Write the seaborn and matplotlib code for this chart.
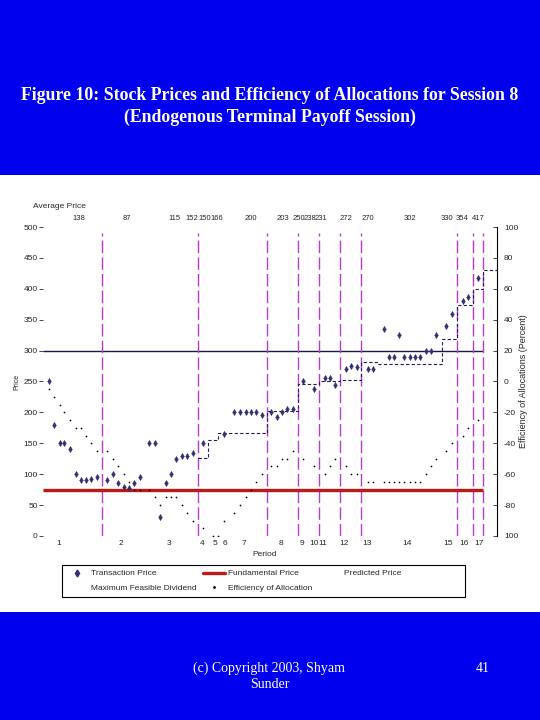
import numpy as np
import pandas as pd
import matplotlib
matplotlib.use("Agg")
import matplotlib.pyplot as plt
import seaborn as sns
from matplotlib.lines import Line2D
from matplotlib.patches import Rectangle

# --- donnees ---
# temps de transaction (rang), prix, efficacite (%)
trade_t = [0, 1.1, 2.1, 2.9, 4.0, 5.1, 6.0, 6.9, 8.0, 9.0,
           11.0, 12.0, 12.9, 14.0, 15.0, 16.0, 17.0,
           18.8, 19.9, 20.8, 21.9, 22.9, 23.8, 24.9, 25.9, 26.9,
           28.8, 30.7, 31.7, 32.8,
           34.7, 35.8, 36.8, 37.8, 38.8, 39.8,
           41.6, 42.6, 43.6, 44.6, 45.6,
           47.6, 49.6, 51.6, 52.6, 53.6,
           55.6, 56.5, 57.6, 59.6, 60.6,
           62.6, 63.6, 64.6, 65.5, 66.5, 67.5, 68.5, 69.5, 70.5, 71.5,
           72.4, 74.3, 75.3, 77.4, 78.4, 80.3]
trade_price = [250, 180, 150, 150, 140, 100, 90, 90, 93, 95,
               90, 100, 85, 80, 78, 85, 95,
               150, 150, 30, 85, 100, 125, 130, 130, 135,
               150, np.nan, np.nan, 165,
               200, 200, 200, 200, 200, 195,
               200, 193, 200, 205, 205,
               250, 238, 255, 255, 245,
               270, 275, 273, 270, 270,
               335, 290, 290, 325, 290, 290, 290, 290, 300, 300,
               325, 340, 360, 380, 387, 417]
trade_eff = [-5, -10, -15, -20, -25, -30, -30, -35, -40, -45,
             -45, -50, -55, -60, -65, -70, -70,
             -70, -75, -80, -75, -75, -75, -80, -85, -90,
             -95, -100, -100, -90,
             -85, -80, -75, -70, -65, -60,
             -55, -55, -50, -50, -45,
             -50, -55, -60, -55, -50,
             -55, -60, -60, -65, -65,
             -65, -65, -65, -65, -65, -65, -65, -65, -60, -55,
             -50, -45, -40, -35, -30, -25]

# prix predit (escalier)
pred_t = [27.9, 29.8, 31.7, 40.8, 46.6, 50.5, 54.5, 58.4, 61.4, 73.5, 76.3, 79.3, 81.2, 83.8]
pred_price = [126, 156, 166, 202, 246, 250, 253, 282, 278, 319, 374, 400, 430, 430]

fundamental_price = 75
ref_price = 300
bounds = [10, 27.9, 40.8, 46.6, 50.5, 54.5, 58.4, 76.3, 79.3, 81.2]

period_labels = [str(i) for i in range(1, 18)]
period_pos = [1.8, 13.5, 22.5, 28.7, 31.1, 33.0, 36.5, 43.4, 47.4, 49.6,
              51.3, 55.2, 59.5, 67.0, 74.7, 77.6, 80.4]
avg_labels = ["138", "87", "115", "152", "150", "166", "200", "203", "250",
              "238", "231", "272", "270", "302", "330", "354", "417"]
avg_pos = [5.7, 14.7, 23.6, 26.8, 29.2, 31.5, 37.8, 43.8, 46.8, 48.9,
           50.9, 55.6, 59.7, 67.5, 74.5, 77.3, 80.3]

trades = pd.DataFrame({"t": trade_t, "price": trade_price, "eff": trade_eff})

# --- figure ---
sns.set_style("white")
plt.rcParams["font.family"] = ["Liberation Sans", "DejaVu Sans"]

blue = "#0000ee"
navy = "#303070"
fig = plt.figure(figsize=(5.4, 7.2), dpi=100, facecolor=blue)
fig.patches.append(Rectangle((0, 0.15), 1, 0.607, transform=fig.transFigure,
                             facecolor="white", edgecolor="none", zorder=-5))

ax = fig.add_axes([0.0801, 0.2556, 0.8403, 0.4291])
ax.set_facecolor("none")
ax2 = ax.twinx()

# lignes de reference
ax.hlines(fundamental_price, -1, bounds[-1], color="#c01818", lw=2.4, zorder=3)
ax.hlines(ref_price, -1, bounds[-1], color="#1c1452", lw=1.0, zorder=2)
ax.vlines(bounds, 0, 490, color="#b83ccc", lw=1.0, linestyles=(0, (9, 3)), zorder=2)

# prix predit
ax.step(pred_t, pred_price, where="post", color="#2a1a5a", lw=0.8,
        linestyle=(0, (3, 2)), zorder=4)

# transactions
sns.scatterplot(data=trades, x="t", y="price", marker="d", s=10, color=navy,
                edgecolor=navy, linewidth=0.3, ax=ax, zorder=5, legend=False)
# efficacite
sns.scatterplot(data=trades, x="t", y="eff", marker="o", s=1.5, color="black",
                linewidth=0, ax=ax2, zorder=5, legend=False)

ax.set_xlim(-1, 83.8)
ax.set_ylim(0, 500)
ax2.set_ylim(-100, 100)
ax.set_xlabel("")
ax.set_ylabel("")
ax2.set_ylabel("")

ax.set_yticks(np.arange(0, 501, 50))
ax.tick_params(axis="y", labelsize=6, length=3, width=0.6, pad=1, left=True)
ax.set_xticks(period_pos)
ax.set_xticklabels(period_labels)
ax.tick_params(axis="x", labelsize=6, length=0, pad=3)

ax2.set_yticks(np.arange(-100, 101, 20))
ax2.set_yticklabels(["100", "-80", "-60", "-40", "-20", "0", "20", "40", "60", "80", "100"])
ax2.tick_params(axis="y", labelsize=6, direction="in", length=3, width=0.6, pad=5, right=True)

for a in (ax, ax2):
    for s in a.spines.values():
        s.set_visible(False)
ax2.spines["right"].set_visible(True)
ax2.spines["right"].set_linewidth(0.8)
ax2.spines["right"].set_color("black")

# prix moyen par periode
for p, lab in zip(avg_pos, avg_labels):
    ax.text(p, 1.015, lab, transform=ax.get_xaxis_transform(), ha="center",
            va="bottom", fontsize=5.5)
fig.text(33 / 540, 1 - 207 / 720, "Average Price", fontsize=6, ha="left", va="center")

fig.text(265 / 540, 1 - 555 / 720, "Period", fontsize=6, ha="center", va="center")
fig.text(17 / 540, 1 - 382 / 720, "Price", fontsize=5, rotation=90, ha="center", va="center")
fig.text(523 / 540, 1 - 381 / 720, "Efficiency of Allocations (Percent)", fontsize=6.5,
         rotation=90, ha="center", va="center")

# legende (cadre dessine a part)
handles = [
    Line2D([], [], marker="d", ls="none", color=navy, ms=3.5),
    Line2D([], [], ls="none", color="white"),
    Line2D([], [], color="#c01818", lw=2.4),
    Line2D([], [], marker="o", ls="none", color="black", ms=1),
    Line2D([], [], ls="none", color="white"),
]
labels = ["Transaction Price", "Maximum Feasible Dividend", "Fundamental Price",
          "Efficiency of Allocation", "Predicted Price"]
fig.legend(handles, labels, ncol=3, loc="upper left", fontsize=6,
           bbox_to_anchor=(62 / 540, 1 - 565 / 720), frameon=False,
           borderpad=0.55, labelspacing=0.75, handlelength=2.6,
           handletextpad=0.35, columnspacing=0.8, borderaxespad=0)
fig.patches.append(Rectangle((62 / 540, 1 - 597 / 720), 403 / 540, 32 / 720,
                             transform=fig.transFigure, facecolor="none",
                             edgecolor="black", lw=0.8, zorder=3))

# titre et pied de page
serif = ["Liberation Serif", "DejaVu Serif"]
fig.text(0.5, 1 - 95 / 720, "Figure 10: Stock Prices and Efficiency of Allocations for Session 8",
         color="white", fontsize=12.8, fontweight="bold", family=serif, ha="center", va="center")
fig.text(0.5, 1 - 117 / 720, "(Endogenous Terminal Payoff Session)",
         color="white", fontsize=12.8, fontweight="bold", family=serif, ha="center", va="center")
fig.text(269 / 540, 1 - 668 / 720, "(c) Copyright 2003, Shyam", color="white",
         fontsize=10, family=serif, ha="center", va="center")
fig.text(270 / 540, 1 - 685 / 720, "Sunder", color="white",
         fontsize=10, family=serif, ha="center", va="center")
fig.text(483 / 540, 1 - 668 / 720, "41", color="white",
         fontsize=10, family=serif, ha="center", va="center")

fig.savefig("out.png", dpi=100, facecolor=fig.get_facecolor())
